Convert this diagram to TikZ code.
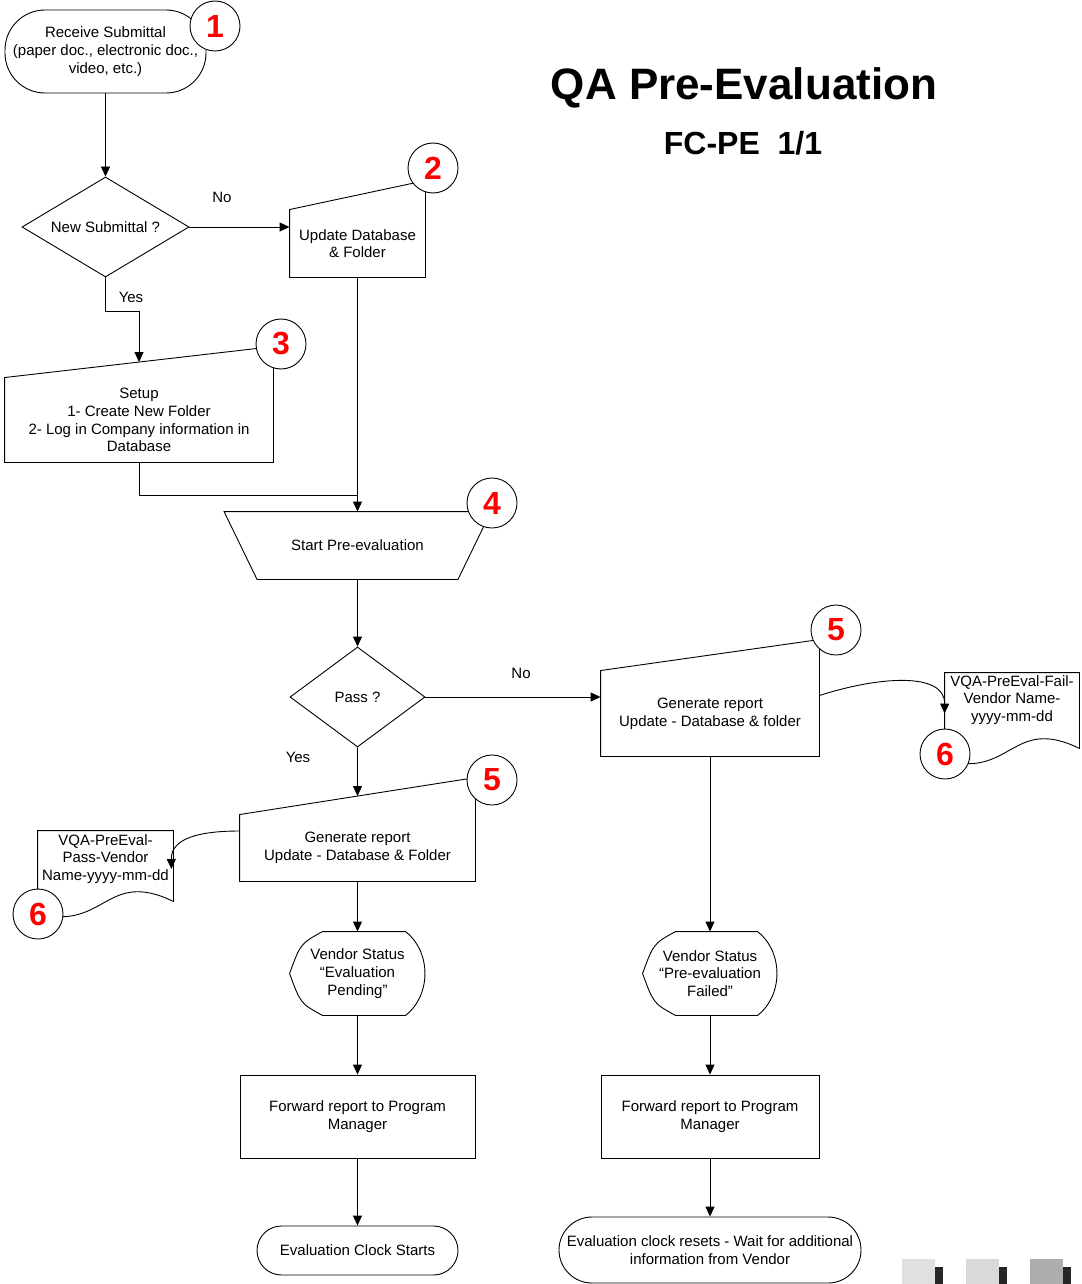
\documentclass[tikz,border=0pt]{standalone}
\usepackage{fontspec}
\setmainfont{Liberation Sans}
\usepackage{tikz}
\usetikzlibrary{shapes.geometric,arrows.meta,calc}

\definecolor{shadeA}{HTML}{E0E0E0}
\definecolor{shadeB}{HTML}{D9D9D9}
\definecolor{shadeC}{HTML}{ADADAD}

\begin{document}
\begin{tikzpicture}[x=1pt,y=-1pt,line width=0.9pt,
    every node/.style={font=\fontsize{15}{17.7}\selectfont,align=center,inner sep=0pt},
    box_node/.style={rectangle,draw},
    shape_node/.style={rectangle},
    term_node/.style={rectangle,draw,rounded corners=#1},
    dec_node/.style={diamond,draw},
    num_node/.style={circle,draw,fill=white,minimum size=50pt,text=red,font=\fontsize{32}{32}\selectfont\bfseries},
    arr/.style={-{Triangle[length=10pt,width=9pt]}}]

    \useasboundingbox (0,0) rectangle (1081,1284);

    % title
    \node[anchor=base,font=\fontsize{44}{44}\selectfont\bfseries] (title) at (744,100) {QA Pre-Evaluation};
    \node[anchor=base,font=\fontsize{32}{32}\selectfont\bfseries] (sub) at (743,155) {FC-PE~~1/1};

    \node[term_node=40pt, minimum width=201pt, minimum height=83pt] (t1) at (105.5,51.5) {Receive Submittal\\(paper doc., electronic doc.,\\video, etc.)};
    \node[dec_node, aspect=1.67, minimum width=167pt, minimum height=100pt] (d1) at (105.5,227) {New Submittal ?};
    \node[shape_node, minimum width=135pt, minimum height=67pt] (upd) at (357.5,243.5) {Update Database\\\& Folder};
    \node[shape_node, minimum width=268pt, minimum height=84pt] (su) at (139,420) {Setup\\1- Create New Folder\\2- Log in Company information in\\Database};
    \node[shape_node, minimum width=266pt, minimum height=67pt] (st) at (357.5,545.5) {Start Pre-evaluation};
    \node[dec_node, aspect=1.35, minimum width=135pt, minimum height=100pt] (d2) at (357.5,697) {Pass ?};
    \node[shape_node, minimum width=235pt, minimum height=66pt] (gl) at (357.5,848) {Generate report\\Update - Database \& Folder};
    \node[shape_node, minimum width=218pt, minimum height=85pt] (gr) at (710,713.5) {Generate report\\Update - Database \& folder};
    \node[shape_node, minimum width=135pt, minimum height=56pt] (dl) at (105.5,859) {VQA-PreEval-\\Pass-Vendor\\Name-yyyy-mm-dd};
    \node[shape_node, minimum width=134pt, minimum height=54pt] (dr) at (1012,700) {VQA-PreEval-Fail-\\Vendor Name-\\yyyy-mm-dd};
    \node[shape_node, minimum width=135pt, minimum height=83pt] (vsl) at (357.5,973.5) {Vendor Status\\“Evaluation\\Pending”};
    \node[shape_node, minimum width=134pt, minimum height=83pt] (vsr) at (710,973.5) {Vendor Status\\“Pre-evaluation\\Failed”};
    \node[box_node, minimum width=235pt, minimum height=83pt] (fl) at (357.5,1116.5) {Forward report to Program\\Manager};
    \node[box_node, minimum width=218pt, minimum height=83pt] (fr) at (710,1116.5) {Forward report to Program\\Manager};
    \node[term_node=24.5pt, minimum width=201pt, minimum height=49pt] (el) at (357.5,1250.5) {Evaluation Clock Starts};
    \node[term_node=33pt, minimum width=302pt, minimum height=66pt] (er) at (710,1250) {Evaluation clock resets - Wait for additional\\information from Vendor};

    \node (no1) at (222,197) {No};
    \node (yes1) at (131,297) {Yes};
    \node (no2) at (521,673) {No};
    \node (yes2) at (298,757) {Yes};

    % outlines
    \draw (upd.south west) -- (upd.north west) -- ($(upd.north east)+(0,-29)$) -- (upd.south east) -- cycle;
    \draw (su.south west) -- (su.north west) -- ($(su.north east)+(0,-31)$) -- (su.south east) -- cycle;
    \draw (gl.south west) -- (gl.north west) -- ($(gl.north east)+(0,-37)$) -- (gl.south east) -- cycle;
    \draw (gr.south west) -- (gr.north west) -- ($(gr.north east)+(0,-31)$) -- (gr.south east) -- cycle;
    \draw (st.north west) -- (st.north east) -- ($(st.south east)+(-33,0)$) -- ($(st.south west)+(33,0)$) -- cycle;
    \draw ($(dl.south west)+(0,26)$) -- (dl.north west) -- (dl.north east) -- ($(dl.south east)+(0,14)$) .. controls ($(dl.south)+(0,-19)$) and ($(dl.south)+(0,44)$) .. ($(dl.south west)+(0,26)$);
    \draw ($(dr.south west)+(0,33)$) -- (dr.north west) -- (dr.north east) -- ($(dr.south east)+(0,21)$) .. controls ($(dr.south)+(0,-12)$) and ($(dr.south)+(0,51)$) .. ($(dr.south west)+(0,33)$);
    \draw ($(vsl.north west)+(33,0)$) -- ($(vsl.north east)+(-20,0)$) .. controls ($(vsl.north east)+(6,20)$) and ($(vsl.south east)+(6,-20)$) .. ($(vsl.south east)+(-20,0)$) -- ($(vsl.south west)+(33,0)$) .. controls ($(vsl.south west)+(11,-12)$) .. (vsl.west) .. controls ($(vsl.north west)+(11,12)$) .. cycle;
    \draw ($(vsr.north west)+(33,0)$) -- ($(vsr.north east)+(-20,0)$) .. controls ($(vsr.north east)+(6,20)$) and ($(vsr.south east)+(6,-20)$) .. ($(vsr.south east)+(-20,0)$) -- ($(vsr.south west)+(33,0)$) .. controls ($(vsr.south west)+(11,-12)$) .. (vsr.west) .. controls ($(vsr.north west)+(11,12)$) .. cycle;

    \coordinate (c3) at ($(su.north west)!0.5!(su.north east)+(0,-15.5)$);
    \coordinate (c5l) at ($(gl.north west)!0.5!(gl.north east)+(0,-18.5)$);

    % connectors
    \draw[arr] (t1.south) -- (d1.north);
    \draw[arr] (d1.east) -- (d1.east -| upd.west);
    \draw[arr] (d1.south) -- ++(0,34) -| (c3);
    \draw[arr] (upd.south) -- (upd.south |- st.north);
    \draw (su.south) -- ++(0,33) -| (upd.south);
    \draw[arr] (st.south) -- (d2.north);
    \draw[arr] (d2.east) -- (d2.east -| gr.west);
    \draw[arr] (d2.south) -- (c5l);
    \draw[arr] ($(gr.east)+(0,-18)$) .. controls (880,676) and (945,672) .. ($(dr.north west)+(0,41)$);
    \draw[arr] ($(gl.west)+(0,-17)$) .. controls (200,831) and (171,838) .. ($(dl.east)+(-2,10)$);
    \draw[arr] (gl.south) -- (vsl.north);
    \draw[arr] (vsl.south) -- (fl.north);
    \draw[arr] (fl.south) -- (el.north);
    \draw[arr] (gr.south) -- (vsr.north);
    \draw[arr] (vsr.south) -- (fr.north);
    \draw[arr] (fr.south) -- (er.north);

    % step numbers
    \node[num_node] (n1) at (215,26) {1};
    \node[num_node] (n2) at (433,168) {2};
    \node[num_node] (n3) at (281,344) {3};
    \node[num_node] (n4) at (492,503) {4};
    \node[num_node] (n5r) at (836,630) {5};
    \node[num_node] (n5l) at (492,780) {5};
    \node[num_node] (n6r) at (945,754) {6};
    \node[num_node] (n6l) at (38,914) {6};

    % page shadow marks
    \fill[shadeA] (902,1259) rectangle (935,1284);
    \fill[black!85] (935,1267) rectangle (943,1284);
    \fill[shadeB] (966,1259) rectangle (999,1284);
    \fill[black!85] (999,1267) rectangle (1007,1284);
    \fill[shadeC] (1030,1259) rectangle (1063,1284);
    \fill[black!85] (1063,1267) rectangle (1071,1284);

\end{tikzpicture}
\end{document}
